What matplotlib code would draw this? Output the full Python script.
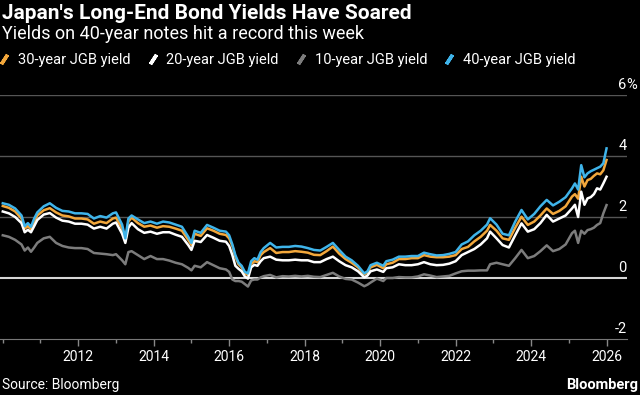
import matplotlib
matplotlib.use("Agg")
import matplotlib.pyplot as plt
import matplotlib.dates as mdates
import matplotlib.transforms as mtransforms
from matplotlib.lines import Line2D
import pandas as pd

# month-ish sample points (yields in %)
dates = [
    "2010-01", "2010-03", "2010-05", "2010-07", "2010-08", "2010-09", "2010-10", "2010-11", "2010-12",
    "2011-02", "2011-04", "2011-06", "2011-08", "2011-10", "2011-12",
    "2012-02", "2012-04", "2012-06", "2012-08", "2012-10", "2012-12",
    "2013-01", "2013-03", "2013-04", "2013-05", "2013-06", "2013-08", "2013-10", "2013-12",
    "2014-02", "2014-04", "2014-06", "2014-08", "2014-10", "2014-12",
    "2015-01", "2015-02", "2015-04", "2015-06", "2015-08", "2015-10", "2015-12",
    "2016-01", "2016-02", "2016-03", "2016-04", "2016-05", "2016-06", "2016-07", "2016-08", "2016-09", "2016-10", "2016-11", "2016-12",
    "2017-02", "2017-04", "2017-06", "2017-08", "2017-10", "2017-12",
    "2018-02", "2018-04", "2018-06", "2018-08", "2018-10", "2018-12",
    "2019-02", "2019-04", "2019-06", "2019-08", "2019-09", "2019-10", "2019-12",
    "2020-02", "2020-03", "2020-05", "2020-07", "2020-09", "2020-11",
    "2021-01", "2021-03", "2021-05", "2021-07", "2021-09", "2021-11",
    "2022-01", "2022-03", "2022-05", "2022-07", "2022-09", "2022-11", "2022-12",
    "2023-02", "2023-04", "2023-06", "2023-08", "2023-10", "2023-12",
    "2024-02", "2024-04", "2024-06", "2024-08", "2024-10", "2024-12",
    "2025-02", "2025-03", "2025-04", "2025-05", "2025-06", "2025-07", "2025-08", "2025-09", "2025-10", "2025-11", "2025-12",
    "2026-01",
]

jgb30 = [
    2.36, 2.30, 2.18, 1.95, 1.62, 1.70, 1.60, 1.85, 2.05,
    2.22, 2.29, 2.15, 2.05, 2.02, 1.95,
    1.95, 1.92, 1.78, 1.85, 1.80, 1.95,
    1.98, 1.62, 1.20, 1.85, 1.98, 1.80, 1.68, 1.72,
    1.65, 1.70, 1.68, 1.62, 1.55, 1.25,
    1.08, 1.45, 1.38, 1.63, 1.55, 1.45, 1.41,
    1.30, 1.05, 0.70, 0.45, 0.35, 0.15, 0.10, 0.45, 0.55, 0.52, 0.75, 0.85,
    0.98, 0.82, 0.85, 0.85, 0.88, 0.86,
    0.83, 0.76, 0.75, 0.88, 1.03, 0.80,
    0.62, 0.50, 0.35, 0.12, 0.18, 0.35, 0.43,
    0.32, 0.45, 0.50, 0.62, 0.62, 0.65,
    0.65, 0.75, 0.70, 0.68, 0.68, 0.70,
    0.75, 0.95, 1.02, 1.20, 1.35, 1.55, 1.74,
    1.55, 1.30, 1.25, 1.65, 2.01, 1.74,
    1.85, 2.05, 2.28, 2.10, 2.20, 2.35,
    2.67, 2.75, 2.60, 3.32, 3.00, 3.21, 3.25, 3.35, 3.43, 3.40, 3.53,
    3.87,
]

jgb20 = [
    2.18, 2.12, 2.00, 1.80, 1.50, 1.58, 1.50, 1.70, 1.90,
    2.08, 2.13, 1.98, 1.88, 1.85, 1.78,
    1.78, 1.75, 1.62, 1.68, 1.62, 1.78,
    1.82, 1.45, 1.15, 1.65, 1.80, 1.60, 1.48, 1.52,
    1.45, 1.50, 1.50, 1.42, 1.35, 1.08,
    0.92, 1.22, 1.18, 1.41, 1.32, 1.22, 1.19,
    1.05, 0.75, 0.40, 0.30, 0.22, 0.05, -0.02, 0.35, 0.43, 0.40, 0.55, 0.65,
    0.70, 0.60, 0.58, 0.58, 0.60, 0.58,
    0.58, 0.52, 0.52, 0.62, 0.70, 0.55,
    0.42, 0.35, 0.22, 0.02, 0.08, 0.22, 0.28,
    0.20, 0.32, 0.35, 0.45, 0.42, 0.42,
    0.45, 0.52, 0.45, 0.42, 0.43, 0.47,
    0.55, 0.75, 0.85, 0.95, 1.10, 1.30, 1.52,
    1.30, 1.08, 1.00, 1.40, 1.79, 1.52,
    1.60, 1.80, 2.07, 1.85, 1.95, 2.05,
    2.28, 2.40, 2.00, 2.83, 2.40, 2.61, 2.65, 2.75, 2.94, 2.90, 3.10,
    3.32,
]

jgb10 = [
    1.40, 1.35, 1.25, 1.10, 0.90, 1.00, 0.86, 1.00, 1.15,
    1.30, 1.35, 1.15, 1.05, 1.00, 0.98,
    0.98, 0.95, 0.82, 0.80, 0.78, 0.75,
    0.78, 0.58, 0.45, 0.85, 0.88, 0.75, 0.62, 0.72,
    0.62, 0.62, 0.57, 0.50, 0.45, 0.33,
    0.25, 0.40, 0.35, 0.52, 0.42, 0.32, 0.28,
    0.20, -0.05, -0.10, -0.10, -0.12, -0.20, -0.28, -0.08, -0.05, -0.05, 0.02, 0.06,
    0.10, 0.02, 0.06, 0.05, 0.07, 0.05,
    0.07, 0.04, 0.03, 0.10, 0.17, 0.05,
    -0.03, -0.05, -0.15, -0.27, -0.22, -0.15, -0.02,
    -0.10, 0.00, 0.00, 0.03, 0.02, 0.02,
    0.05, 0.12, 0.08, 0.03, 0.05, 0.07,
    0.15, 0.22, 0.24, 0.24, 0.25, 0.25, 0.45,
    0.50, 0.45, 0.40, 0.65, 0.92, 0.65,
    0.72, 0.88, 1.07, 0.88, 0.95, 1.10,
    1.47, 1.55, 1.15, 1.55, 1.45, 1.57, 1.60, 1.65, 1.74, 1.80, 2.12,
    2.39,
]

jgb40 = [
    2.45, 2.40, 2.28, 2.05, 1.70, 1.80, 1.68, 1.95, 2.15,
    2.35, 2.45, 2.30, 2.20, 2.18, 2.12,
    2.12, 2.10, 1.95, 2.03, 1.98, 2.12,
    2.15, 1.75, 1.30, 1.95, 2.05, 1.92, 1.80, 1.85,
    1.78, 1.85, 1.82, 1.75, 1.68, 1.35,
    1.15, 1.55, 1.48, 1.74, 1.65, 1.55, 1.52,
    1.40, 1.10, 0.75, 0.50, 0.40, 0.20, 0.15, 0.55, 0.65, 0.60, 0.85, 0.98,
    1.15, 1.00, 1.02, 1.02, 1.05, 1.03,
    0.98, 0.92, 0.90, 1.02, 1.15, 0.92,
    0.70, 0.58, 0.40, 0.15, 0.22, 0.42, 0.50,
    0.40, 0.55, 0.60, 0.70, 0.70, 0.72,
    0.72, 0.83, 0.78, 0.74, 0.75, 0.79,
    0.85, 1.10, 1.20, 1.40, 1.55, 1.75, 1.96,
    1.75, 1.45, 1.40, 1.85, 2.23, 1.92,
    2.10, 2.35, 2.56, 2.38, 2.50, 2.65,
    2.94, 3.10, 2.90, 3.70, 3.30, 3.43, 3.50, 3.55, 3.60, 3.65, 3.76,
    4.25,
]

labels = ["30-year JGB yield", "20-year JGB yield", "10-year JGB yield", "40-year JGB yield"]
colors = ["#f2a73b", "#ffffff", "#7c7c7c", "#3fb4ea"]
yticks = [-2, 0, 2, 4, 6]
ytick_labels = ["-2", "0", "2", "4", "6"]
xticks = list(range(2012, 2027, 2))

plt.rcParams["font.family"] = ["Roboto", "DejaVu Sans"]

t = pd.to_datetime(dates)

fig = plt.figure(figsize=(6.4, 3.95), dpi=100, facecolor="black")
ax = fig.add_axes([0.0, 0.1418, 0.98, 0.6177], facecolor="black")

for v in yticks[1:]:
    if v == 0:
        ax.axhline(v, color="#d6d6d6", lw=1.5, zorder=1)
    else:
        ax.axhline(v, color="#555555", lw=1.0, zorder=1)

series = [jgb30, jgb20, jgb10, jgb40]
for s, c in zip(series, colors):
    ax.plot(t, s, color=c, lw=1.8, zorder=3)

ax.set_ylim(-2, 6)
ax.set_xlim(pd.Timestamp("2009-12-05"), pd.Timestamp("2026-07-20"))

for sp in ["top", "right", "left"]:
    ax.spines[sp].set_visible(False)
ax.spines["bottom"].set_color("#777777")
ax.set_yticks([])

ax.set_xticks([pd.Timestamp(f"{y}-01-01") for y in xticks])
ax.set_xticklabels([str(y) for y in xticks])
ax.xaxis.set_minor_locator(mdates.YearLocator(1))
ax.tick_params(axis="x", which="major", colors="#888888", length=5, width=1,
               labelcolor="white", labelsize=10, pad=3)
ax.tick_params(axis="x", which="minor", colors="#888888", length=3, width=1)

# y labels sit just above their gridlines on the right
off = mtransforms.offset_copy(ax.get_yaxis_transform(), fig=fig, x=0, y=3, units="dots")
for v, lab in zip(yticks, ytick_labels):
    ax.text(0.999, v, lab, transform=off, ha="right", va="bottom",
            color="white", fontsize=10.5, clip_on=False)
    if v == yticks[-1]:
        ax.text(0.999, v, "%", transform=off, ha="left", va="bottom",
                color="white", fontsize=10.5, clip_on=False)

fig.text(0.003, 0.99, "Japan's Long-End Bond Yields Have Soared", color="white",
         fontsize=15, fontweight="bold", ha="left", va="top")
fig.text(0.003, 0.937, "Yields on 40-year notes hit a record this week", color="white",
         fontsize=13, ha="left", va="top")

handles = [Line2D([], [], linestyle="none", marker=(2, 2, -33), markersize=8,
                  markeredgewidth=2.5, markeredgecolor=c) for c in colors]
fig.legend(handles, labels, loc="center left", bbox_to_anchor=(0.0, 0.848), ncol=4,
           frameon=False, borderpad=0, borderaxespad=0, handlelength=0.6,
           handletextpad=0.65, columnspacing=1.2, labelcolor="white", prop={"size": 10.5})

fig.text(0.003, 0.008, "Source: Bloomberg", color="white", fontsize=10, ha="left", va="bottom")
fig.text(0.997, 0.008, "Bloomberg", color="white", fontsize=10.5, fontweight="bold",
         ha="right", va="bottom")

fig.savefig("out.png", dpi=100, facecolor="black")
